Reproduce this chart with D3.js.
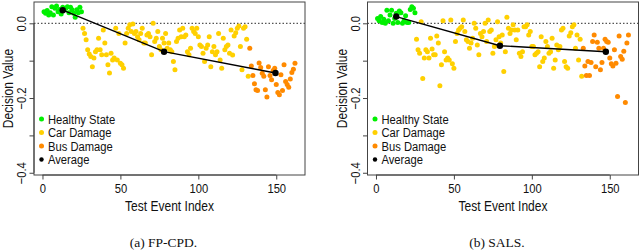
<!DOCTYPE html>
<html>
<head>
<meta charset="utf-8">
<script src="https://cdn.jsdelivr.net/npm/d3@7"></script>
<style>
body{margin:0;background:#fff;}
svg text{font-family:"Liberation Sans",Arial,sans-serif;fill:#111;}
.caption{font-family:"Liberation Serif","DejaVu Serif",serif !important;}
</style>
</head>
<body>
<svg id="chart" width="640" height="250"></svg>
<script>
// event index where each group begins
var healthyStart = 1, carStart = 26, busStart = 133;

// (a) FP-CPD decision values
var fpHealthy = [0.031,0.027,0.034,0.022,0.028,0.044,0.022,0.040,0.046,0.031,0.037,0.025,0.043,0.036,0.040,
  0.044,0.028,0.043,0.036,0.027,0.016,0.036,0.028,0.043,0.031];
var fpCar = [-0.013,-0.027,-0.044,-0.071,-0.082,-0.089,-0.116,-0.093,-0.076,-0.071,
  -0.040,-0.071,-0.084,-0.018,-0.053,-0.084,-0.111,-0.133,-0.080,-0.098,
  -0.093,-0.013,-0.098,-0.027,-0.107,-0.111,-0.120,-0.053,-0.027,-0.013,
  -0.004,-0.022,-0.002,-0.027,-0.022,-0.036,-0.044,-0.027,-0.013,-0.053,
  -0.053,-0.031,-0.027,-0.036,-0.084,0.000,-0.049,-0.040,-0.022,-0.062,
  -0.071,-0.040,-0.053,-0.027,-0.067,-0.053,-0.071,-0.076,-0.102,-0.124,
  -0.049,-0.040,-0.018,-0.036,-0.013,-0.036,-0.031,-0.076,-0.084,-0.067,
  -0.013,-0.022,-0.027,-0.013,-0.036,-0.058,-0.062,-0.080,-0.102,-0.067,
  -0.058,-0.036,-0.116,-0.076,-0.062,-0.084,-0.076,-0.027,-0.098,-0.120,
  -0.040,-0.071,-0.062,-0.058,-0.080,-0.018,-0.085,-0.034,-0.025,-0.013,
  -0.007,-0.062,-0.124,-0.013,-0.009,-0.043,-0.142];
var fpBus = [-0.067,-0.114,-0.140,-0.162,-0.178,-0.180,-0.106,-0.118,-0.134,-0.142,
  -0.178,-0.197,-0.116,-0.140,-0.151,-0.126,-0.120,-0.164,-0.185,-0.191,
  -0.138,-0.180,-0.111,-0.156,-0.164,-0.171,-0.149,-0.132,-0.123,-0.107];
var fpAvgIdx = [13, 78, 149.5];
var fpAvg = [0.035, -0.076, -0.133];

// (b) SALS decision values
var salsHealthy = [0.013,0.007,0.018,0.002,0.011,0.000,0.035,0.007,0.022,0.035,0.000,0.013,0.027,0.002,0.033,
  0.028,0.000,0.007,0.020,0.002,0.002,0.037,0.044,0.040,0.028];
var salsCar = [-0.043,-0.071,-0.080,0.004,-0.148,-0.093,-0.071,-0.076,-0.093,-0.040,
  -0.069,-0.084,-0.084,-0.034,-0.053,-0.167,-0.111,0.007,-0.076,-0.098,
  -0.093,-0.098,0.009,-0.108,-0.120,-0.049,-0.027,-0.018,-0.013,-0.009,
  0.009,-0.022,-0.044,-0.049,-0.067,-0.053,-0.040,0.000,-0.013,-0.058,
  -0.084,-0.027,-0.036,-0.022,0.000,-0.049,0.009,-0.022,-0.018,-0.080,
  -0.062,-0.044,0.004,-0.036,-0.053,-0.031,-0.129,-0.076,0.016,-0.013,
  -0.027,-0.018,-0.004,-0.018,-0.044,-0.018,-0.080,-0.089,-0.076,-0.009,
  -0.009,-0.004,-0.031,-0.022,-0.062,-0.062,-0.084,-0.080,-0.076,-0.116,
  -0.036,-0.102,-0.093,-0.049,-0.062,-0.080,-0.076,-0.040,-0.120,-0.098,
  -0.058,-0.071,-0.062,-0.018,-0.013,-0.102,-0.116,-0.120,-0.034,-0.025,
  -0.009,-0.004,-0.067,-0.031,-0.098,-0.043,-0.142];
var salsBus = [-0.067,-0.114,-0.140,-0.102,-0.140,-0.105,-0.049,-0.031,-0.116,-0.051,
  -0.067,-0.124,-0.105,-0.067,-0.043,-0.049,-0.051,-0.093,-0.108,-0.114,
  -0.071,-0.107,-0.196,-0.034,-0.089,-0.096,-0.075,-0.212,-0.053,-0.031];
var salsAvgIdx = [13, 79.5, 147.5];
var salsAvg = [0.018, -0.060, -0.076];

var xTicks = [0, 50, 100, 150];
var yTicks = [0, -0.1, -0.2, -0.3, -0.4];
var yLabelled = [0, -0.2, -0.4];
var legendNames = ["Healthy State", "Car Damage", "Bus Damage", "Average"];
var colors = ["#00f000", "#ffd000", "#ff8a00", "#000"];

// the reference text is narrow, so squeeze it sideways
var squeeze = 0.83;

function toPoints(vals, start){
  return vals.map((v,i)=>({idx:start+i, v:v}));
}

var svg = d3.select('#chart');

function drawPanel(left, caption, healthy, car, bus, avgIdx, avg){
  var x0 = left, x1 = left + 271, y0 = 2, y1 = 175;
  var xscale = d3.scaleLinear().domain([-5.44, 168.44]).range([x0, x1]);
  var yscale = d3.scaleLinear().domain([-0.406, 0.057]).range([y1, y0]);
  var g = svg.append('g');

  // zero reference line
  g.append('line')
    .attr("x1",x0).attr("x2",x1)
    .attr("y1",yscale(0)).attr("y2",yscale(0))
    .attr("stroke","#555").attr("stroke-width",1.2)
    .attr("stroke-dasharray","1.5,2");

  var groups = [healthy, car, bus];
  groups.forEach((pts,k)=>{
    g.selectAll(null)
      .data(pts)
      .enter()
      .append('circle')
      .attr("cx",d=>xscale(d.idx))
      .attr("cy",d=>yscale(d.v))
      .attr("r",2.5)
      .attr("fill",colors[k]);
  });

  var avgData = avgIdx.map((d,i)=>({idx:d, v:avg[i]}));
  var line = d3.line().x(d=>xscale(d.idx)).y(d=>yscale(d.v));
  g.append('path')
    .attr("d",line(avgData))
    .attr("fill","none")
    .attr("stroke","#000")
    .attr("stroke-width",1.4);
  g.selectAll(null)
    .data(avgData)
    .enter()
    .append('circle')
    .attr("cx",d=>xscale(d.idx))
    .attr("cy",d=>yscale(d.v))
    .attr("r",3.2)
    .attr("fill","#000");

  // box
  g.append('rect')
    .attr("x",x0).attr("y",y0)
    .attr("width",x1-x0).attr("height",y1-y0)
    .attr("fill","none").attr("stroke","#444").attr("stroke-width",1);

  var xAxis = d3.axisBottom(xscale).tickValues(xTicks).tickSize(4.5).tickPadding(4).tickFormat(d=>d);
  var gx = g.append('g')
    .attr("transform",`translate(0,${y1})`)
    .call(xAxis);
  gx.select('.domain').attr("d",`M${xscale(0)},0H${xscale(150)}`).attr("stroke","#444");
  gx.selectAll('.tick line').attr("stroke","#444");
  gx.selectAll('text').attr("font-size",13.5).attr("fill","#111")
    .attr("font-family",'"Liberation Sans",Arial,sans-serif')
    .attr("transform",`scale(${squeeze},1)`);

  var yAxis = d3.axisLeft(yscale).tickValues(yTicks).tickSize(4.5)
    .tickFormat(d=>yLabelled.includes(d) ? (d===0 ? "0.0" : d.toFixed(1).replace("-","\u2212")) : "");
  var gy = g.append('g')
    .attr("transform",`translate(${x0},0)`)
    .call(yAxis);
  gy.select('.domain').attr("d",`M0,${yscale(0)}V${yscale(-0.4)}`).attr("stroke","#444");
  gy.selectAll('.tick line').attr("stroke","#444");
  gy.selectAll('text')
    .attr("font-size",13.5).attr("fill","#111")
    .attr("font-family",'"Liberation Sans",Arial,sans-serif')
    .attr("x",null).attr("dy",null)
    .attr("text-anchor","middle")
    .attr("transform",`translate(-8,0) rotate(-90) scale(${squeeze},1)`);

  g.append('text')
    .attr("transform",`translate(${(x0+x1)/2},211) scale(${squeeze},1)`)
    .attr("text-anchor","middle")
    .attr("font-size",14.5)
    .text("Test Event Index");

  g.append('text')
    .attr("transform",`translate(${x0-21},${(y0+y1)/2}) rotate(-90) scale(${squeeze},1)`)
    .attr("text-anchor","middle")
    .attr("font-size",14.5)
    .text("Decision Value");

  // legend
  var leg = g.append('g').attr("transform",`translate(${x0+7.5},119)`);
  legendNames.forEach((name,i)=>{
    leg.append('circle')
      .attr("cx",0).attr("cy",i*13.5)
      .attr("r",i===3 ? 2.2 : 2.5)
      .attr("fill",colors[i]);
    leg.append('text')
      .attr("transform",`translate(6.5,${i*13.5}) scale(${squeeze},1)`)
      .attr("dy","0.35em")
      .attr("font-size",13.5)
      .text(name);
  });

  svg.append('text')
    .attr("class","caption")
    .attr("x",(x0+x1)/2 - 6)
    .attr("y",247)
    .attr("text-anchor","middle")
    .attr("font-size",13.5)
    .text(caption);
}

drawPanel(34, "(a)  FP-CPD.", toPoints(fpHealthy,healthyStart), toPoints(fpCar,carStart), toPoints(fpBus,busStart), fpAvgIdx, fpAvg);
drawPanel(367.5, "(b)  SALS.", toPoints(salsHealthy,healthyStart), toPoints(salsCar,carStart), toPoints(salsBus,busStart), salsAvgIdx, salsAvg);
</script>
</body>
</html>
